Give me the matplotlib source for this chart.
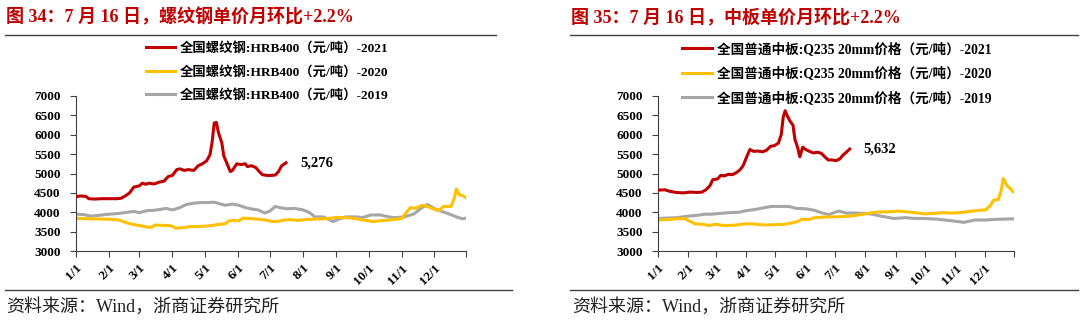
import datetime as dt
import matplotlib
matplotlib.use("Agg")
import matplotlib.pyplot as plt
from matplotlib.lines import Line2D

SERIF_CJK = ['Liberation Serif', 'Noto Sans CJK SC']

# ---- data ----
rebar_2021_dates = ["1/1", "1/5", "1/10", "1/13", "1/18", "1/25", "2/1", "2/8", "2/12", "2/16", "2/20", "2/24",
                    "3/1", "3/4", "3/7", "3/10", "3/15", "3/20", "3/24", "3/28", "4/1", "4/5", "4/8", "4/12",
                    "4/16", "4/21", "4/25", "4/29", "5/3", "5/6", "5/8", "5/10", "5/12", "5/14", "5/17", "5/19",
                    "5/22", "5/25", "5/27", "5/31", "6/4", "6/8", "6/10", "6/14", "6/18", "6/21", "6/24", "6/28",
                    "7/2", "7/6", "7/9", "7/12", "7/14", "7/16"]
rebar_2021_vals = [4400, 4420, 4410, 4350, 4340, 4350, 4350, 4350, 4360, 4420, 4500, 4650,
                   4680, 4750, 4720, 4750, 4730, 4780, 4800, 4920, 4950, 5100, 5120, 5080,
                   5100, 5080, 5200, 5250, 5330, 5480, 5800, 6300, 6320, 6050, 5800, 5450,
                   5250, 5050, 5080, 5250, 5230, 5250, 5180, 5200, 5150, 5050, 4970, 4950,
                   4950, 4960, 5050, 5200, 5240, 5276]

rebar_2020_dates = ["1/1", "1/15", "2/1", "2/10", "2/18", "2/24", "3/1", "3/8", "3/12", "3/16", "3/24", "3/31",
                    "4/4", "4/10", "4/18", "4/25", "5/1", "5/8", "5/15", "5/20", "5/24", "5/28", "6/2", "6/6",
                    "6/12", "6/20", "6/27", "7/3", "7/8", "7/14", "7/20", "7/27", "8/3", "8/10", "8/18", "8/25",
                    "9/1", "9/8", "9/15", "9/22", "9/28", "10/5", "10/12", "10/20", "10/27", "11/1", "11/5",
                    "11/9", "11/14", "11/20", "11/25", "12/1", "12/6", "12/10", "12/17", "12/20", "12/22",
                    "12/25", "12/28", "12/31"]
rebar_2020_vals = [3840, 3830, 3820, 3800, 3720, 3680, 3660, 3620, 3610, 3670, 3660, 3650,
                   3590, 3600, 3630, 3630, 3640, 3660, 3690, 3700, 3780, 3790, 3780, 3850,
                   3840, 3820, 3800, 3760, 3760, 3800, 3810, 3790, 3810, 3820, 3830, 3840,
                   3870, 3860, 3850, 3820, 3790, 3760, 3780, 3800, 3820, 3840, 3980,
                   4120, 4100, 4180, 4150, 4080, 4050, 4150, 4150, 4350, 4600,
                   4450, 4430, 4370]

rebar_2019_dates = ["1/1", "1/8", "1/15", "1/22", "2/1", "2/10", "2/18", "2/24", "3/1", "3/8", "3/15", "3/22",
                    "3/26", "4/1", "4/8", "4/14", "4/20", "4/27", "5/4", "5/10", "5/15", "5/20", "5/27", "6/2",
                    "6/8", "6/15", "6/20", "6/26", "7/1", "7/6", "7/10", "7/17", "7/24", "8/1", "8/7", "8/12",
                    "8/20", "8/29", "9/3", "9/10", "9/20", "9/25", "10/3", "10/12", "10/20", "10/25", "11/3",
                    "11/12", "11/19", "11/25", "12/4", "12/14", "12/23", "12/28", "12/31"]
rebar_2019_vals = [3950, 3940, 3900, 3920, 3950, 3970, 4000, 4020, 3990, 4040, 4050, 4080,
                   4100, 4060, 4120, 4200, 4230, 4250, 4250, 4260, 4220, 4180, 4210, 4180,
                   4120, 4080, 4060, 3980, 4030, 4150, 4120, 4090, 4100, 4060, 3990, 3880,
                   3880, 3760, 3820, 3880, 3880, 3860, 3930, 3930, 3880, 3860, 3880,
                   3950, 4100, 4200, 4060, 3970, 3870, 3830, 3850]

plate_2021_dates = ["1/1", "1/8", "1/13", "1/20", "1/27", "2/3", "2/10", "2/15", "2/19", "2/23", "2/26", "3/3",
                    "3/6", "3/10", "3/14", "3/18", "3/22", "3/26", "3/29", "4/2", "4/5", "4/9", "4/13", "4/18",
                    "4/22", "4/26", "4/30", "5/4", "5/7", "5/9", "5/11", "5/13", "5/16", "5/19", "5/21", "5/24",
                    "5/26", "5/29", "6/1", "6/5", "6/9", "6/13", "6/17", "6/21", "6/24", "6/28", "7/2", "7/6",
                    "7/9", "7/13", "7/16"]
plate_2021_vals = [4570, 4580, 4540, 4510, 4500, 4520, 4510, 4520, 4580, 4680, 4840, 4860,
                   4950, 4940, 4980, 4970, 5020, 5100, 5200, 5450, 5620, 5570, 5580, 5560,
                   5600, 5700, 5720, 5780, 6000, 6450, 6620, 6500, 6350, 6250, 5880, 5650,
                   5430, 5680, 5620, 5570, 5530, 5550, 5520, 5420, 5350, 5350, 5330, 5380,
                   5470, 5560, 5632]

plate_2020_dates = ["1/1", "1/10", "1/20", "1/28", "2/3", "2/8", "2/15", "2/22", "3/1", "3/8", "3/15", "3/22",
                    "3/31", "4/8", "4/15", "4/22", "5/1", "5/10", "5/17", "5/24", "5/28", "6/4", "6/10", "6/17",
                    "6/24", "7/1", "7/10", "7/17", "7/25", "8/1", "8/8", "8/15", "8/25", "9/4", "9/12", "9/20",
                    "10/1", "10/10", "10/20", "10/28", "11/5", "11/15", "11/25", "12/2", "12/7", "12/10",
                    "12/15", "12/18", "12/20", "12/24", "12/27", "12/30"]
plate_2020_vals = [3800, 3810, 3830, 3840, 3760, 3700, 3690, 3660, 3690, 3660, 3660, 3670,
                   3700, 3700, 3680, 3670, 3680, 3690, 3720, 3760, 3820, 3810, 3860, 3870,
                   3880, 3880, 3890, 3900, 3930, 3960, 3990, 4010, 4010, 4030, 4010, 3990,
                   3960, 3970, 3990, 3980, 3990, 4020, 4050, 4060, 4180, 4310,
                   4330, 4570, 4870, 4680, 4620, 4530]

plate_2019_dates = ["1/1", "1/10", "1/20", "2/1", "2/10", "2/18", "2/25", "3/5", "3/15", "3/25", "4/1", "4/10",
                    "4/20", "4/27", "5/5", "5/15", "5/22", "6/1", "6/10", "6/18", "6/25", "7/1", "7/5", "7/12",
                    "7/20", "8/1", "8/8", "8/15", "8/30", "9/11", "9/20", "10/1", "10/14", "10/28", "11/10",
                    "11/21", "12/2", "12/15", "12/31"]
plate_2019_vals = [3840, 3850, 3860, 3900, 3920, 3950, 3950, 3970, 3990, 4000, 4040, 4070,
                   4120, 4150, 4150, 4150, 4100, 4090, 4050, 3980, 3940, 4000, 4030, 3980,
                   3980, 3970, 3950, 3910, 3840, 3860, 3840, 3840, 3820, 3780, 3740,
                   3800, 3800, 3820, 3830]

month_ticks = ["1/1", "2/1", "3/1", "4/1", "5/1", "6/1", "7/1", "8/1", "9/1", "10/1", "11/1", "12/1"]
y_ticks = [3000, 3500, 4000, 4500, 5000, 5500, 6000, 6500, 7000]

RED, YELLOW, GRAY = "#C00000", "#FFC000", "#A6A6A6"


def doy(s):
    m, d = map(int, s.split("/"))
    return (dt.date(2021, m, d) - dt.date(2021, 1, 1)).days


def px(x, y, w, h):
    # pixel box (from top-left) -> figure fraction rect
    return [x / 1080, 1 - (y + h) / 322, w / 1080, h / 322]


def hline(fig, x0, x1, y):
    fig.add_artist(Line2D([x0 / 1080, x1 / 1080], [1 - y / 322, 1 - y / 322],
                          color="#404040", lw=1.0, transform=fig.transFigure))


def draw_panel(fig, rect, title, title_x, line_x, src_x, legend_xy, legend_size, series, names):
    ax = fig.add_axes(rect)
    handles = []
    for (dates, vals), color, z in zip(series, [RED, YELLOW, GRAY], [3, 2, 1]):
        ln, = ax.plot([doy(d) for d in dates], vals, color=color, lw=2.2, zorder=z)
        handles.append(ln)
    ax.set_xlim(0, 364)
    ax.set_ylim(3000, 7000)
    ax.set_yticks(y_ticks)
    ax.set_xticks([doy(t) for t in month_ticks] + [364])
    ax.set_xticklabels(month_ticks + [""], rotation=45, ha="right", va="top", rotation_mode="anchor")
    for lab in ax.get_xticklabels() + ax.get_yticklabels():
        lab.set_fontfamily("Liberation Serif")
        lab.set_fontweight("bold")
        lab.set_fontsize(9.5)
    ax.tick_params(axis="both", length=4, width=0.8, color="#404040")
    ax.tick_params(axis="x", pad=4)
    ax.tick_params(axis="y", pad=7)
    for s in ("top", "right"):
        ax.spines[s].set_visible(False)
    for s in ("left", "bottom"):
        ax.spines[s].set_color("#404040")
        ax.spines[s].set_linewidth(0.8)

    last_dates, last_vals = series[0]
    ax.annotate(f"{last_vals[-1]:,}", xy=(doy(last_dates[-1]), last_vals[-1]),
                xytext=(10, 0), textcoords="offset points", va="center", ha="left",
                fontfamily="Liberation Serif", fontweight="bold", fontsize=10.5)

    ax.legend(handles, names, loc="upper left",
              bbox_to_anchor=(legend_xy[0] / 1080, 1 - legend_xy[1] / 322),
              bbox_transform=fig.transFigure, frameon=False, borderpad=0, borderaxespad=0,
              handlelength=2.2, handletextpad=0.35, labelspacing=0.78,
              prop={"family": SERIF_CJK, "weight": "bold", "size": legend_size})

    fig.text(title_x / 1080, 1 - 17 / 322, title, color=RED, fontsize=13, fontweight="bold",
             family=SERIF_CJK, ha="left", va="center")
    hline(fig, line_x[0], line_x[1], 35)
    hline(fig, line_x[0], line_x[2], 290)
    fig.text(src_x / 1080, 1 - 307 / 322, "资料来源：Wind，浙商证券研究所", fontsize=13,
             family=SERIF_CJK, ha="left", va="center", color="#222222")


fig = plt.figure(figsize=(10.8, 3.22), dpi=100)
fig.patch.set_facecolor("white")

draw_panel(fig, px(76, 96, 390, 155), "图 34：7 月 16 日，螺纹钢单价月环比+2.2%", 6, (5, 496, 512), 6,
           (146, 42), 9.6,
           [(rebar_2021_dates, rebar_2021_vals), (rebar_2020_dates, rebar_2020_vals),
            (rebar_2019_dates, rebar_2019_vals)],
           ["全国螺纹钢:HRB400（元/吨）-2021", "全国螺纹钢:HRB400（元/吨）-2020",
            "全国螺纹钢:HRB400（元/吨）-2019"])

draw_panel(fig, px(658, 96, 356, 155), "图 35：7 月 16 日，中板单价月环比+2.2%", 571, (570, 1078, 1078), 572,
           (682, 42), 9.8,
           [(plate_2021_dates, plate_2021_vals), (plate_2020_dates, plate_2020_vals),
            (plate_2019_dates, plate_2019_vals)],
           ["全国普通中板:Q235 20mm价格（元/吨）-2021", "全国普通中板:Q235 20mm价格（元/吨）-2020",
            "全国普通中板:Q235 20mm价格（元/吨）-2019"])

fig.savefig("out.png", dpi=100)
